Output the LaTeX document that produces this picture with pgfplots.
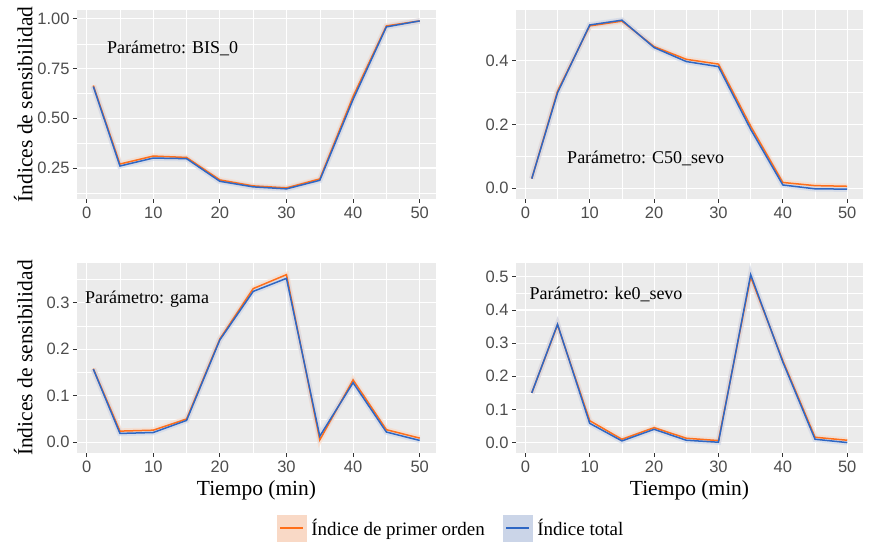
\documentclass[border=0pt]{standalone}
\usepackage{fontspec}
\setmainfont{Liberation Serif}
\setsansfont{Liberation Sans}
\usepackage{pgfplots}
\pgfplotsset{compat=1.18}
\definecolor{panelbg}{HTML}{EBEBEB}
\definecolor{gtwenty}{HTML}{333333}
\definecolor{gthirty}{HTML}{4D4D4D}
\definecolor{orline}{HTML}{FF6F1A}
\definecolor{blline}{HTML}{2E67C4}
\definecolor{orfill}{HTML}{F9D9C6}
\definecolor{blfill}{HTML}{CBD5E8}
\newcommand\tickfont{\sffamily\fontsize{16.5}{18}\selectfont}
\newcommand\annfont{\fontsize{18}{20}\selectfont}
\newcommand\legfont{\fontsize{19}{21}\selectfont}
\newcommand\labfont{\fontsize{21.5}{24}\selectfont}
\pgfplotsset{
 panel/.style={
  scale only axis, anchor=south west,
  axis background/.style={fill=panelbg},
  axis line style={draw=none},
  xmin=-1.45, xmax=52.45,
  xtick={0,10,...,50}, minor xtick={5,15,...,45},
  grid=both,
  major grid style={white, line width=1.1pt},
  minor grid style={white, line width=0.55pt},
  tick style={gtwenty, line width=0.9pt},
  tick align=outside, major tick length=4pt, minor tick length=0pt,
  xtick pos=bottom, ytick pos=left,
  ticklabel style={font=\tickfont, text=gthirty},
  /pgf/number format/assume math mode=true,
  xticklabel style={/pgf/number format/.cd, fixed, precision=0},
  every axis y label/.style={at={(axis description cs:-0.150,0.5)}, rotate=90, anchor=center, font=\labfont},
  every axis x label/.style={at={(axis description cs:0.5,-0.195)}, anchor=center, font=\labfont},
 },
 rib/.style={line width=5.5pt, opacity=0.6, forget plot},
 orl/.style={orline, line width=1.5pt, forget plot},
 bll/.style={blline, line width=1.5pt, forget plot},
}
\begin{document}
\begin{tikzpicture}
\path[use as bounding box] (0,0) rectangle (870pt,544pt);
% ---------------- BIS_0
\begin{axis}[panel, at={(77pt,345pt)}, width=359pt, height=189pt,
  ymin=0.094, ymax=1.045, ytick={0.25,0.5,0.75,1}, minor ytick={0.125,0.375,0.625,0.875},
  yticklabel style={/pgf/number format/.cd, fixed, fixed zerofill, precision=2},
  ylabel={Índices de sensibilidad}]
\addplot[rib, orfill] coordinates {(1,0.665) (5,0.27) (10,0.31) (15,0.303) (20,0.19) (25,0.16) (30,0.15) (35,0.195) (40,0.61) (45,0.965) (50,0.99)};
\addplot[rib, blfill] coordinates {(1,0.66) (5,0.26) (10,0.30) (15,0.297) (20,0.183) (25,0.155) (30,0.145) (35,0.188) (40,0.595) (45,0.96) (50,0.99)};
\addplot[orl] coordinates {(1,0.665) (5,0.27) (10,0.31) (15,0.303) (20,0.19) (25,0.16) (30,0.15) (35,0.195) (40,0.61) (45,0.965) (50,0.99)};
\addplot[bll] coordinates {(1,0.66) (5,0.26) (10,0.30) (15,0.297) (20,0.183) (25,0.155) (30,0.145) (35,0.188) (40,0.595) (45,0.96) (50,0.99)};
\node[font=\annfont] at (axis cs:12.9,0.85) {Parámetro: BIS\_0};
\end{axis}
% ---------------- C50_sevo
\begin{axis}[panel, at={(516pt,345pt)}, width=347pt, height=189pt,
  ymin=-0.034, ymax=0.560, ytick={0,0.2,0.4}, minor ytick={0.1,0.3,0.5},
  yticklabel style={/pgf/number format/.cd, fixed, fixed zerofill, precision=1}]
\addplot[rib, orfill] coordinates {(1,0.03) (5,0.305) (10,0.51) (15,0.525) (20,0.445) (25,0.405) (30,0.39) (35,0.195) (40,0.018) (45,0.008) (50,0.006)};
\addplot[rib, blfill] coordinates {(1,0.03) (5,0.30) (10,0.513) (15,0.528) (20,0.442) (25,0.398) (30,0.382) (35,0.185) (40,0.01) (45,-0.002) (50,-0.003)};
\addplot[orl] coordinates {(1,0.03) (5,0.305) (10,0.51) (15,0.525) (20,0.445) (25,0.405) (30,0.39) (35,0.195) (40,0.018) (45,0.008) (50,0.006)};
\addplot[bll] coordinates {(1,0.03) (5,0.30) (10,0.513) (15,0.528) (20,0.442) (25,0.398) (30,0.382) (35,0.185) (40,0.01) (45,-0.002) (50,-0.003)};
\node[font=\annfont] at (axis cs:18.7,0.095) {Parámetro: C50\_sevo};
\end{axis}
% ---------------- gama
\begin{axis}[panel, at={(77pt,91pt)}, width=359pt, height=190pt,
  ymin=-0.023, ymax=0.385, ytick={0,0.1,0.2,0.3}, minor ytick={0.05,0.15,0.25,0.35},
  yticklabel style={/pgf/number format/.cd, fixed, fixed zerofill, precision=1},
  ylabel={Índices de sensibilidad}, xlabel={Tiempo (min)},
  legend columns=2,
  legend style={at={(1.042,-0.395)}, anchor=center, draw=none, fill=none,
    font=\legfont, nodes={inner sep=2pt},
    /tikz/every odd column/.append style={column sep=3pt},
    /tikz/every even column/.append style={column sep=16pt}}]
\addplot[rib, orfill] coordinates {(1,0.158) (5,0.024) (10,0.026) (15,0.05) (20,0.222) (25,0.33) (30,0.36) (35,0.005) (40,0.134) (45,0.027) (50,0.009)};
\addplot[rib, blfill] coordinates {(1,0.157) (5,0.019) (10,0.021) (15,0.047) (20,0.22) (25,0.324) (30,0.352) (35,0.013) (40,0.128) (45,0.022) (50,0.004)};
\addplot[orl] coordinates {(1,0.158) (5,0.024) (10,0.026) (15,0.05) (20,0.222) (25,0.33) (30,0.36) (35,0.005) (40,0.134) (45,0.027) (50,0.009)};
\addplot[bll] coordinates {(1,0.157) (5,0.019) (10,0.021) (15,0.047) (20,0.22) (25,0.324) (30,0.352) (35,0.013) (40,0.128) (45,0.022) (50,0.004)};
\node[font=\annfont] at (axis cs:9.06,0.307) {Parámetro: gama};
\addlegendimage{legend image code/.code={\fill[orfill] (0pt,-13pt) rectangle (29pt,13pt); \draw[orline, line width=2.5pt] (3pt,0pt) -- (26pt,0pt);}}
\addlegendentry{Índice de primer orden}
\addlegendimage{legend image code/.code={\fill[blfill] (0pt,-13pt) rectangle (29pt,13pt); \draw[blline, line width=2.5pt] (3pt,0pt) -- (26pt,0pt);}}
\addlegendentry{Índice total}
\end{axis}
% ---------------- ke0_sevo
\begin{axis}[panel, at={(516pt,91pt)}, width=347pt, height=190pt,
  ymin=-0.0315, ymax=0.542, ytick={0,0.1,...,0.5}, minor ytick={0.05,0.15,0.25,0.35,0.45},
  yticklabel style={/pgf/number format/.cd, fixed, fixed zerofill, precision=1},
  xlabel={Tiempo (min)}]
\addplot[rib, orfill] coordinates {(1,0.15) (5,0.355) (10,0.066) (15,0.01) (20,0.045) (25,0.013) (30,0.006) (35,0.50) (40,0.247) (45,0.016) (50,0.007)};
\addplot[rib, blfill] coordinates {(1,0.15) (5,0.357) (10,0.058) (15,0.005) (20,0.04) (25,0.007) (30,0.001) (35,0.507) (40,0.243) (45,0.01) (50,0.0)};
\addplot[orl] coordinates {(1,0.15) (5,0.355) (10,0.066) (15,0.01) (20,0.045) (25,0.013) (30,0.006) (35,0.50) (40,0.247) (45,0.016) (50,0.007)};
\addplot[bll] coordinates {(1,0.15) (5,0.357) (10,0.058) (15,0.005) (20,0.04) (25,0.007) (30,0.001) (35,0.507) (40,0.243) (45,0.01) (50,0.0)};
\node[font=\annfont] at (axis cs:12.53,0.448) {Parámetro: ke0\_sevo};
\end{axis}
\end{tikzpicture}
\end{document}
